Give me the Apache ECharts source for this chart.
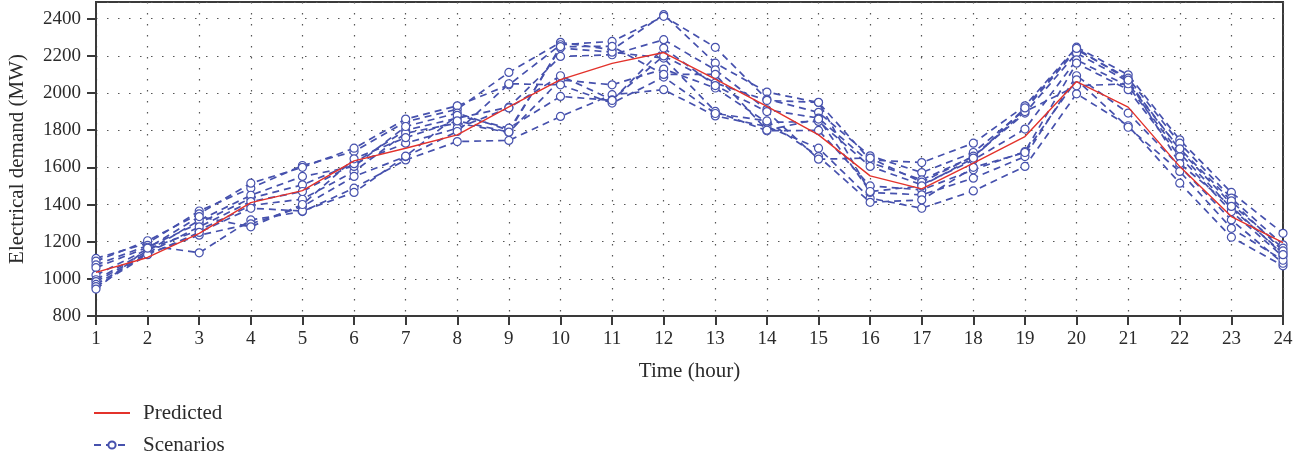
<!DOCTYPE html>
<html>
<head>
<meta charset="utf-8">
<script src="https://cdn.jsdelivr.net/npm/echarts@6/dist/echarts.min.js"></script>
<style>
html,body{margin:0;padding:0;background:#fff;}
#chart{width:1315px;height:460px;}
</style>
</head>
<body>
<div id="chart"></div>
<script>
// Hours of the day
const hours = ['1','2','3','4','5','6','7','8','9','10','11','12','13','14','15','16','17','18','19','20','21','22','23','24'];

// Predicted demand (MW)
const predicted = [1035,1115,1245,1410,1475,1635,1703,1775,1925,2072,2160,2218,2075,1928,1775,1554,1484,1623,1766,2062,1924,1604,1335,1195];

// Generated demand scenarios (MW)
const scenario1  = [1110,1192,1365,1488,1610,1685,1845,1913,2111,2273,2233,2422,2161,2005,1949,1640,1626,1730,1931,2247,2098,1748,1465,1245];
const scenario2  = [1095,1205,1350,1515,1600,1703,1860,1931,2044,2260,2278,2413,2246,1967,1896,1662,1572,1680,1910,2233,2080,1730,1434,1183];
const scenario3  = [1075,1180,1140,1317,1362,1488,1640,1739,1745,1874,1991,2018,1877,1820,1703,1434,1380,1473,1605,1996,1824,1515,1224,1070];
const scenario4  = [1060,1170,1300,1434,1506,1622,1800,1865,1924,2197,2206,2287,2125,1910,1865,1626,1533,1658,1892,2215,2062,1694,1403,1165];
const scenario5  = [1020,1160,1262,1395,1429,1578,1784,1838,1788,2071,2044,2129,2027,1842,1847,1605,1506,1640,1806,2179,2036,1676,1380,1138];
const scenario6  = [995,1150,1315,1450,1551,1605,1820,1892,1800,2242,2220,2188,1901,1797,1799,1500,1479,1587,1685,2161,2018,1658,1362,1120];
const scenario7  = [985,1140,1280,1416,1470,1620,1730,1811,1920,2093,1964,2200,2054,1960,1950,1465,1452,1542,1658,2093,1892,1605,1317,1084];
const scenario8  = [970,1135,1235,1296,1389,1551,1658,1793,2050,2044,1946,2086,1890,1850,1658,1412,1425,1600,1680,2071,1816,1578,1272,1100];
const scenario9  = [958,1130,1250,1380,1365,1465,1660,1880,1811,1982,1960,2242,2040,1900,1644,1650,1520,1660,1900,2039,2050,1700,1420,1150];
const scenario10 = [945,1165,1335,1280,1400,1646,1760,1850,1790,2250,2251,2100,2100,1800,1860,1470,1500,1650,1920,2240,2070,1620,1390,1130];
const scenarios = [scenario1,scenario2,scenario3,scenario4,scenario5,scenario6,scenario7,scenario8,scenario9,scenario10];

// Y-axis ticks
const yMin = 800, yStep = 200, yTop = 2490;

const FONT = 'Liberation Serif';
const TEXT = '#2b2b2b';
const AXIS = '#3a3a3a';
const BLUE = '#4651ad';
const RED = '#e3322b';

const dotted = { show: true, lineStyle: { color: '#555', width: 1.2, type: [1.5, 9.5] } };

const series = [];
scenarios.forEach(function (d) {
  series.push({
    name: 'Scenarios',
    type: 'line',
    data: d,
    symbol: 'circle',
    symbolSize: 8,
    showSymbol: true,
    itemStyle: { color: '#fff', borderColor: BLUE, borderWidth: 1.2 },
    lineStyle: { color: BLUE, width: 1.7, type: [7, 5] },
    z: 2,
    animation: false
  });
});
series.push({
  name: 'Predicted',
  type: 'line',
  data: predicted,
  symbol: 'none',
  itemStyle: { color: RED },
  lineStyle: { color: RED, width: 1.4 },
  z: 3,
  animation: false
});

const chart = echarts.init(document.getElementById('chart'), null, { renderer: 'canvas' });
chart.setOption({
  backgroundColor: '#fff',
  animation: false,
  grid: { left: 96, right: 32, top: 2, bottom: 144, outerBoundsMode: 'none', show: true, borderColor: AXIS, borderWidth: 2, backgroundColor: 'transparent' },
  legend: {
    orient: 'vertical',
    left: 93,
    top: 402,
    padding: 0,
    itemGap: 10,
    itemWidth: 36,
    itemHeight: 9,
    data: [
      { name: 'Predicted', itemStyle: { opacity: 0 } },
      { name: 'Scenarios' }
    ],
    textStyle: { fontFamily: FONT, fontSize: 21, lineHeight: 22, color: TEXT, padding: [0, 0, 0, 8] }
  },
  xAxis: {
    type: 'category',
    data: hours,
    boundaryGap: false,
    name: 'Time (hour)',
    nameLocation: 'middle',
    nameGap: 45,
    nameTextStyle: { fontFamily: FONT, fontSize: 21, color: TEXT },
    axisLine: { show: true, lineStyle: { color: AXIS, width: 2 } },
    axisTick: { show: true, length: 9, lineStyle: { color: AXIS, width: 2 }, alignWithLabel: true },
    axisLabel: { fontFamily: FONT, fontSize: 19, color: TEXT, margin: 14 },
    splitLine: dotted
  },
  yAxis: {
    type: 'value',
    min: yMin,
    max: yTop,
    interval: yStep,
    name: 'Electrical demand (MW)',
    nameLocation: 'middle',
    nameRotate: 90,
    nameGap: 68,
    nameTextStyle: { fontFamily: FONT, fontSize: 21, color: TEXT },
    axisLine: { show: true, lineStyle: { color: AXIS, width: 2 } },
    axisTick: { show: true, length: 9, lineStyle: { color: AXIS, width: 2 } },
    axisLabel: { fontFamily: FONT, fontSize: 19, color: TEXT, margin: 15, showMaxLabel: false, formatter: function (v) { return String(v); } },
    splitLine: dotted
  },
  series: series
});
</script>
</body>
</html>
